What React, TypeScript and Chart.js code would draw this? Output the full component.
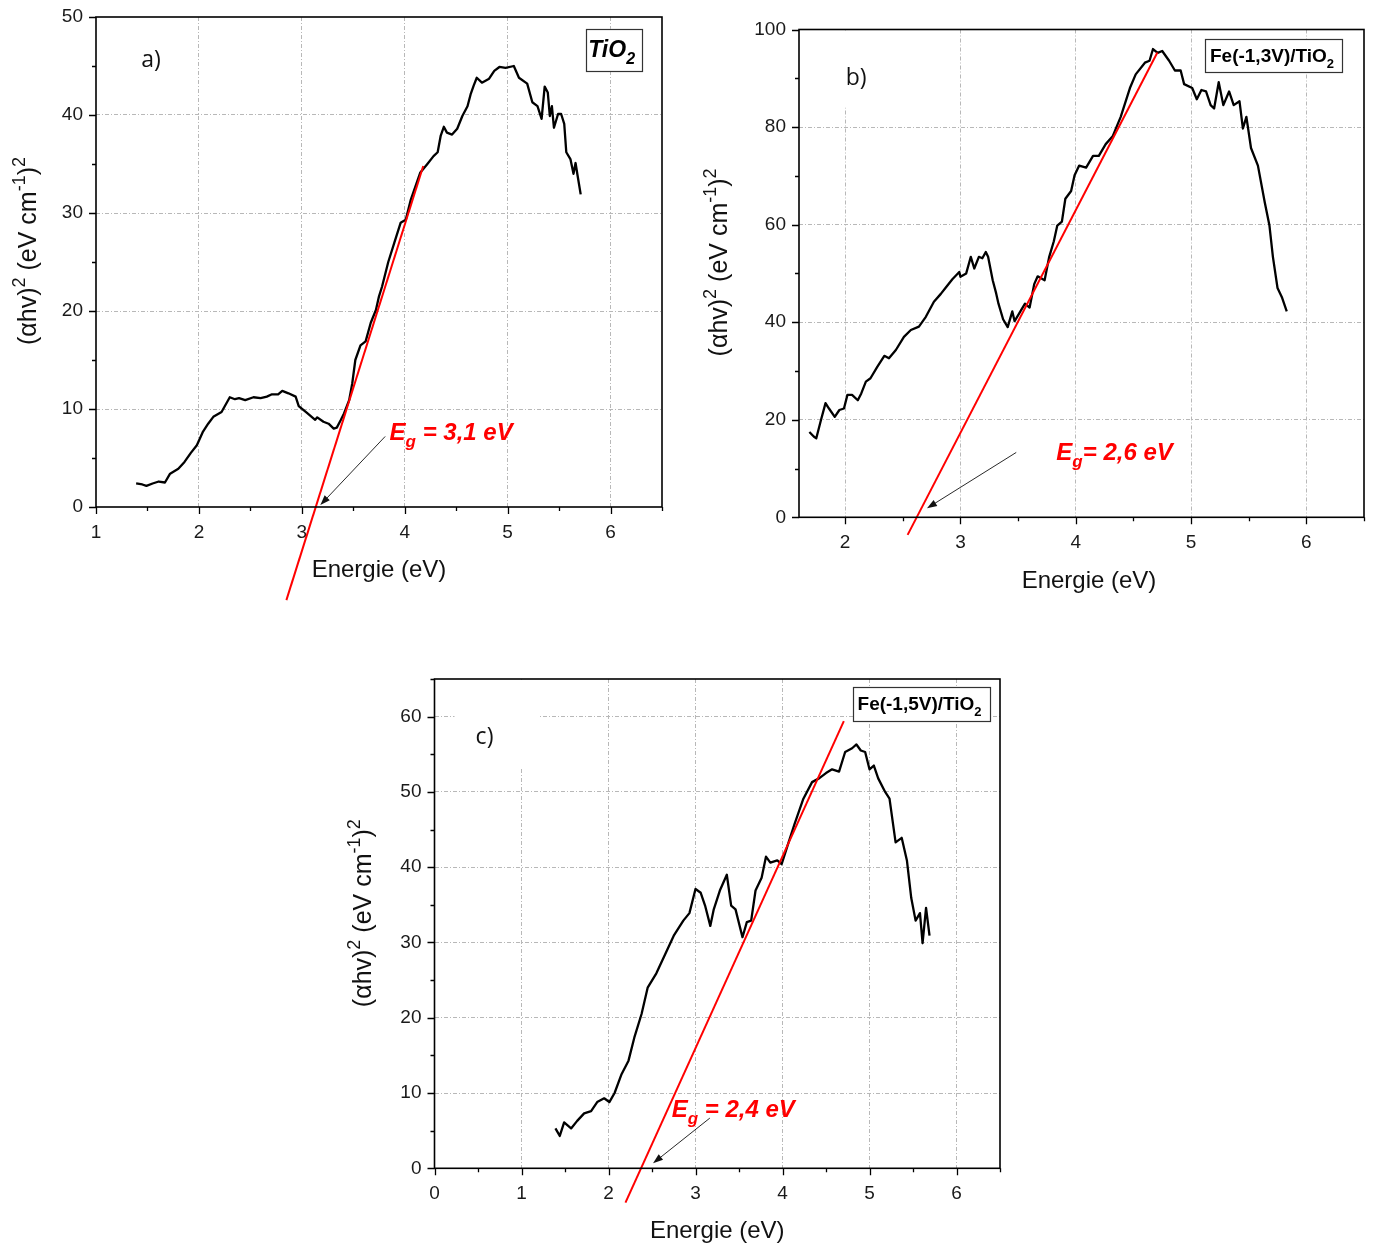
import { useEffect, useRef } from "react";
import { Chart, registerables } from "chart.js";

Chart.register(...registerables);

type Pt = [number, number];
type Part = { t: string; sub?: boolean; sup?: boolean };

// (αhν)² against photon energy — a) TiO2
const curveTiO2: Pt[] = [
  [1.39, 2.4], [1.45, 2.3], [1.49, 2.15], [1.55, 2.4], [1.61, 2.6], [1.67, 2.5], [1.72, 3.4],
  [1.80, 3.9], [1.86, 4.6], [1.92, 5.5], [1.98, 6.3], [2.04, 7.7], [2.09, 8.5], [2.14, 9.2],
  [2.22, 9.7], [2.30, 11.2], [2.35, 11.0], [2.39, 11.1], [2.45, 10.9], [2.53, 11.2],
  [2.60, 11.1], [2.66, 11.26], [2.71, 11.5], [2.77, 11.5], [2.81, 11.85], [2.87, 11.6],
  [2.94, 11.26], [2.97, 10.3], [3.05, 9.6], [3.13, 8.9], [3.15, 9.15], [3.21, 8.7],
  [3.26, 8.5], [3.31, 8.0], [3.34, 8.1], [3.38, 8.9], [3.41, 9.55], [3.46, 10.9],
  [3.49, 12.6], [3.52, 15.0], [3.57, 16.5], [3.62, 16.9], [3.67, 18.8], [3.72, 20.1],
  [3.75, 21.5], [3.78, 22.5], [3.84, 25.0], [3.90, 27.0], [3.96, 29.0], [4.01, 29.3],
  [4.06, 31.4], [4.15, 34.1], [4.22, 35.0], [4.28, 35.8], [4.32, 36.2], [4.35, 37.9],
  [4.38, 38.8], [4.41, 38.2], [4.46, 38.0], [4.51, 38.6], [4.56, 39.9], [4.61, 40.9],
  [4.64, 42.1], [4.67, 43.0], [4.70, 43.8], [4.75, 43.3], [4.82, 43.7], [4.87, 44.5],
  [4.92, 44.9], [4.98, 44.8], [5.06, 45.0], [5.11, 43.8], [5.19, 43.2], [5.24, 41.3],
  [5.29, 40.9], [5.33, 39.6], [5.36, 42.9], [5.39, 42.3], [5.41, 39.9], [5.43, 40.9],
  [5.45, 38.7], [5.49, 40.1], [5.52, 40.1], [5.55, 39.1], [5.57, 36.2], [5.61, 35.5],
  [5.64, 34.0], [5.66, 35.1], [5.68, 33.8], [5.71, 31.9],
];
const fitTiO2: Pt[] = [[2.85, -9.5], [4.18, 34.8]];

// b) Fe(-1,3V)/TiO2
const curveFe13: Pt[] = [
  [1.69, 17.5], [1.73, 16.5], [1.75, 16.2], [1.79, 19.9], [1.83, 23.4], [1.86, 22.3],
  [1.91, 20.6], [1.95, 22.0], [1.99, 22.3], [2.02, 25.1], [2.06, 25.1], [2.11, 24.0],
  [2.14, 25.4], [2.18, 27.8], [2.22, 28.5], [2.28, 30.9], [2.34, 33.1], [2.38, 32.6],
  [2.44, 34.3], [2.51, 37.0], [2.57, 38.4], [2.64, 39.1], [2.70, 41.1], [2.77, 44.2],
  [2.83, 45.8], [2.87, 47.0], [2.93, 48.8], [2.99, 50.3], [3.00, 49.3], [3.05, 50.0],
  [3.09, 53.4], [3.12, 51.0], [3.16, 53.4], [3.19, 53.1], [3.22, 54.4], [3.24, 53.4],
  [3.28, 48.6], [3.31, 45.9], [3.33, 43.8], [3.37, 40.6], [3.41, 39.0], [3.45, 42.2],
  [3.47, 40.2], [3.52, 42.2], [3.56, 43.8], [3.60, 43.0], [3.64, 47.8], [3.67, 49.4],
  [3.73, 48.6], [3.77, 53.4], [3.81, 56.6], [3.84, 59.8], [3.88, 60.6], [3.91, 65.3],
  [3.96, 66.9], [3.99, 70.1], [4.03, 72.1], [4.09, 71.7], [4.15, 74.1], [4.20, 74.1],
  [4.26, 76.5], [4.32, 78.1], [4.39, 82.1], [4.47, 88.0], [4.52, 90.8], [4.60, 93.2],
  [4.64, 93.6], [4.67, 96.0], [4.71, 95.2], [4.75, 95.6], [4.81, 93.6], [4.86, 91.6],
  [4.91, 91.6], [4.94, 88.8], [5.01, 88.0], [5.05, 85.7], [5.09, 87.6], [5.13, 87.3],
  [5.17, 84.5], [5.20, 83.8], [5.24, 89.2], [5.28, 84.5], [5.33, 87.3], [5.37, 84.5],
  [5.42, 85.3], [5.45, 79.7], [5.48, 82.1], [5.52, 75.7], [5.58, 72.1], [5.64, 64.5],
  [5.68, 59.8], [5.71, 53.4], [5.75, 47.0], [5.79, 45.0], [5.83, 42.2],
];
const fitFe13: Pt[] = [[2.542, -3.6], [4.708, 95.3]];

// c) Fe(-1,5V)/TiO2
const curveFe15: Pt[] = [
  [1.39, 5.3], [1.44, 4.3], [1.49, 6.1], [1.57, 5.3], [1.64, 6.3], [1.72, 7.3], [1.80, 7.6],
  [1.87, 8.8], [1.95, 9.3], [2.01, 8.8], [2.07, 10.0], [2.15, 12.5], [2.23, 14.3],
  [2.30, 17.5], [2.38, 20.5], [2.45, 24.0], [2.55, 25.9], [2.65, 28.4], [2.75, 30.9],
  [2.86, 32.9], [2.93, 33.9], [3.00, 37.1], [3.06, 36.6], [3.11, 34.9], [3.17, 32.2],
  [3.21, 34.4], [3.28, 36.9], [3.36, 39.0], [3.41, 34.9], [3.46, 34.4], [3.54, 30.7],
  [3.59, 32.7], [3.64, 32.9], [3.69, 36.9], [3.76, 38.6], [3.81, 41.4], [3.86, 40.6],
  [3.94, 40.9], [3.99, 40.4], [4.07, 43.3], [4.14, 45.8], [4.24, 49.1], [4.34, 51.3],
  [4.42, 51.8], [4.50, 52.5], [4.57, 53.0], [4.65, 52.7], [4.72, 55.3], [4.80, 55.8],
  [4.85, 56.3], [4.90, 55.5], [4.95, 55.3], [5.00, 53.0], [5.05, 53.5], [5.10, 51.8],
  [5.18, 50.0], [5.23, 49.1], [5.30, 43.3], [5.37, 43.9], [5.43, 40.9], [5.48, 35.9],
  [5.53, 32.9], [5.58, 33.9], [5.61, 29.9], [5.65, 34.6], [5.69, 30.9],
];
const fitFe15: Pt[] = [[2.195, -4.55], [4.705, 59.4]];

// Tick values (major ones carry labels)
const energyTicksA = [1, 1.5, 2, 2.5, 3, 3.5, 4, 4.5, 5, 5.5, 6, 6.5];
const absTicksA = [0, 5, 10, 15, 20, 25, 30, 35, 40, 45, 50];
const energyTicksB = [2, 2.5, 3, 3.5, 4, 4.5, 5, 5.5, 6, 6.5];
const absTicksB = [0, 10, 20, 30, 40, 50, 60, 70, 80, 90, 100];
const energyTicksC = [0, 0.5, 1, 1.5, 2, 2.5, 3, 3.5, 4, 4.5, 5, 5.5, 6, 6.5];
const absTicksC = [0, 5, 10, 15, 20, 25, 30, 35, 40, 45, 50, 55, 60, 65];

const yTitle: Part[] = [
  { t: "(αhv)" }, { t: "2", sup: true }, { t: " (eV cm" }, { t: "-1", sup: true },
  { t: ")" }, { t: "2", sup: true },
];
const xTitle = "Energie (eV)";

interface PanelCfg {
  left: number; top: number; width: number; height: number;
  area: { l: number; t: number; r: number; b: number };
  xMin: number; xMax: number; yMin: number; yMax: number;
  xTicks: number[]; yTicks: number[]; xMajor: number; yMajor: number;
  curve: Pt[]; fit: Pt[];
  letter: { text: string; x: number; y: number };
  legend: { parts: Part[]; x0: number; x1: number; y0: number; y1: number; size: number; italic: boolean };
  eg: { parts: Part[]; x: number; y: number };
  arrow: { x0: number; y0: number; x1: number; y1: number };
  mask?: { x0: number; x1: number; y0: number; y1: number };
  yTitlePos: { dx: number; dy: number };
  xTitlePos: { dx: number; dy: number };
}

const SANS = "'Liberation Sans', Arial, sans-serif";

const panels: PanelCfg[] = [
  {
    left: 0, top: 0, width: 690, height: 615,
    area: { l: 96, t: 17, r: 662, b: 507 },
    xMin: 1, xMax: 6.5, yMin: 0, yMax: 50,
    xTicks: energyTicksA, yTicks: absTicksA, xMajor: 1, yMajor: 10,
    curve: curveTiO2, fit: fitTiO2,
    letter: { text: "a)", x: 1.535, y: 45.6 },
    legend: { parts: [{ t: "TiO" }, { t: "2", sub: true }], x0: 5.76, x1: 6.3, y0: 48.8, y1: 44.5, size: 23, italic: true },
    eg: { parts: [{ t: "E" }, { t: "g", sub: true }, { t: " = 3,1 eV" }], x: 3.853, y: 6.83 },
    arrow: { x0: 3.81, y0: 7.2, x1: 3.18, y1: 0.2 },
    yTitlePos: { dx: -69, dy: -11 },
    xTitlePos: { dx: 0, dy: 63 },
  },
  {
    left: 690, top: 0, width: 683, height: 615,
    area: { l: 109, t: 29.5, r: 674, b: 517.3 },
    xMin: 1.6, xMax: 6.5, yMin: 0, yMax: 100,
    xTicks: energyTicksB, yTicks: absTicksB, xMajor: 1, yMajor: 20,
    curve: curveFe13, fit: fitFe13,
    letter: { text: "b)", x: 2.095, y: 89.9 },
    legend: { parts: [{ t: "Fe(-1,3V)/TiO" }, { t: "2", sub: true }], x0: 5.125, x1: 6.314, y0: 98.0, y1: 91.2, size: 19, italic: false },
    eg: { parts: [{ t: "E" }, { t: "g", sub: true }, { t: "= 2,6 eV" }], x: 3.832, y: 11.7 },
    arrow: { x0: 3.484, y0: 13.3, x1: 2.71, y1: 1.85 },
    mask: { x0: 1.8, x1: 2.2, y0: 100, y1: 84 },
    yTitlePos: { dx: -81, dy: -11 },
    xTitlePos: { dx: 7.5, dy: 63.7 },
  },
  {
    left: 330, top: 640, width: 690, height: 605,
    area: { l: 104.5, t: 39, r: 670, b: 528.3 },
    xMin: 0, xMax: 6.5, yMin: 0, yMax: 65,
    xTicks: energyTicksC, yTicks: absTicksC, xMajor: 1, yMajor: 10,
    curve: curveFe15, fit: fitFe15,
    letter: { text: "c)", x: 0.575, y: 57.3 },
    legend: { parts: [{ t: "Fe(-1,5V)/TiO" }, { t: "2", sub: true }], x0: 4.81, x1: 6.387, y0: 63.9, y1: 59.4, size: 19, italic: false },
    eg: { parts: [{ t: "E" }, { t: "g", sub: true }, { t: " = 2,4 eV" }], x: 2.727, y: 6.84 },
    arrow: { x0: 3.165, y0: 6.67, x1: 2.512, y1: 0.67 },
    mask: { x0: 0.23, x1: 1.21, y0: 65, y1: 53.1 },
    yTitlePos: { dx: -72.5, dy: -10.5 },
    xTitlePos: { dx: 0, dy: 62.7 },
  },
];

const isMultiple = (v: number, step: number) => Math.abs(v / step - Math.round(v / step)) < 1e-6;

function drawRich(
  ctx: CanvasRenderingContext2D, parts: Part[], x: number, y: number, size: number,
  font: { weight: string; style: string; family: string }, align: "left" | "center",
) {
  const small = Math.round(size * 0.7);
  const fontFor = (p: Part) => `${font.style} ${font.weight} ${p.sub || p.sup ? small : size}px ${font.family}`;
  let total = 0;
  for (const p of parts) {
    ctx.font = fontFor(p);
    total += ctx.measureText(p.t).width;
  }
  let cx = align === "center" ? x - total / 2 : x;
  ctx.textAlign = "left";
  ctx.textBaseline = "alphabetic";
  for (const p of parts) {
    ctx.font = fontFor(p);
    const dy = p.sub ? size * 0.3 : p.sup ? -size * 0.42 : 0;
    ctx.fillText(p.t, cx, y + dy);
    cx += ctx.measureText(p.t).width;
  }
}

function decorPlugin(cfg: PanelCfg) {
  return {
    id: "decor",
    beforeDatasetsDraw(chart: any) {
      if (!cfg.mask) return;
      const { ctx, scales } = chart;
      const xs = scales.x, ys = scales.y;
      const m = cfg.mask;
      const X0 = xs.getPixelForValue(m.x0), X1 = xs.getPixelForValue(m.x1);
      const Y0 = ys.getPixelForValue(m.y0), Y1 = ys.getPixelForValue(m.y1);
      ctx.save();
      ctx.fillStyle = "#ffffff";
      ctx.fillRect(X0, Y0 + 1, X1 - X0, Y1 - Y0 - 1);
      ctx.restore();
    },
    afterDraw(chart: any) {
      const { ctx, chartArea: ca, scales } = chart;
      const xs = scales.x, ys = scales.y;
      ctx.save();

      // frame
      ctx.strokeStyle = "#000";
      ctx.lineWidth = 1.6;
      ctx.strokeRect(ca.left, ca.top, ca.right - ca.left, ca.bottom - ca.top);

      // outward tick marks, longer on labelled values
      ctx.lineWidth = 1.3;
      ctx.beginPath();
      for (const v of cfg.xTicks) {
        const px = Math.round(xs.getPixelForValue(v)) + 0.5;
        const len = isMultiple(v, cfg.xMajor) ? 7 : 4;
        ctx.moveTo(px, ca.bottom);
        ctx.lineTo(px, ca.bottom + len);
      }
      for (const v of cfg.yTicks) {
        const py = Math.round(ys.getPixelForValue(v)) + 0.5;
        const len = isMultiple(v, cfg.yMajor) ? 7 : 4;
        ctx.moveTo(ca.left, py);
        ctx.lineTo(ca.left - len, py);
      }
      ctx.stroke();

      // axis titles
      ctx.fillStyle = "#111";
      const midX = (ca.left + ca.right) / 2, midY = (ca.top + ca.bottom) / 2;
      ctx.save();
      ctx.translate(ca.left + cfg.yTitlePos.dx, midY + cfg.yTitlePos.dy);
      ctx.rotate(-Math.PI / 2);
      drawRich(ctx, yTitle, 0, 8.5, 25, { weight: "normal", style: "normal", family: SANS }, "center");
      ctx.restore();
      ctx.font = `24px ${SANS}`;
      ctx.textAlign = "center";
      ctx.textBaseline = "middle";
      ctx.fillText(xTitle, midX + cfg.xTitlePos.dx, ca.bottom + cfg.xTitlePos.dy);

      // panel letter
      ctx.font = "23px 'Open Sans', sans-serif";
      ctx.fillText(cfg.letter.text, xs.getPixelForValue(cfg.letter.x), ys.getPixelForValue(cfg.letter.y));

      // sample legend box
      const L = cfg.legend;
      const bx0 = xs.getPixelForValue(L.x0), bx1 = xs.getPixelForValue(L.x1);
      const by0 = ys.getPixelForValue(L.y0), by1 = ys.getPixelForValue(L.y1);
      ctx.fillStyle = "#fff";
      ctx.fillRect(bx0, by0, bx1 - bx0, by1 - by0);
      ctx.strokeStyle = "#333";
      ctx.lineWidth = 1.2;
      ctx.strokeRect(Math.round(bx0) + 0.5, Math.round(by0) + 0.5, Math.round(bx1 - bx0), Math.round(by1 - by0));
      ctx.fillStyle = "#000";
      drawRich(ctx, L.parts, (bx0 + bx1) / 2 - 2, (by0 + by1) / 2 + L.size * 0.33, L.size,
        { weight: "bold", style: L.italic ? "italic" : "normal", family: SANS }, "center");

      // band-gap label
      ctx.fillStyle = "#ff0000";
      drawRich(ctx, cfg.eg.parts, xs.getPixelForValue(cfg.eg.x), ys.getPixelForValue(cfg.eg.y), 24,
        { weight: "bold", style: "italic", family: SANS }, "left");

      // arrow pointing at the intercept
      const a = cfg.arrow;
      const ax0 = xs.getPixelForValue(a.x0), ay0 = ys.getPixelForValue(a.y0);
      const ax1 = xs.getPixelForValue(a.x1), ay1 = ys.getPixelForValue(a.y1);
      const ang = Math.atan2(ay1 - ay0, ax1 - ax0);
      ctx.strokeStyle = "#111";
      ctx.lineWidth = 0.9;
      ctx.beginPath();
      ctx.moveTo(ax0, ay0);
      ctx.lineTo(ax1 - Math.cos(ang) * 6, ay1 - Math.sin(ang) * 6);
      ctx.stroke();
      ctx.fillStyle = "#111";
      ctx.beginPath();
      ctx.moveTo(ax1, ay1);
      ctx.lineTo(ax1 - Math.cos(ang) * 10 + Math.sin(ang) * 3.5, ay1 - Math.sin(ang) * 10 - Math.cos(ang) * 3.5);
      ctx.lineTo(ax1 - Math.cos(ang) * 10 - Math.sin(ang) * 3.5, ay1 - Math.sin(ang) * 10 + Math.cos(ang) * 3.5);
      ctx.closePath();
      ctx.fill();

      ctx.restore();
    },
  };
}

function Panel({ cfg }: { cfg: PanelCfg }) {
  const ref = useRef<HTMLCanvasElement>(null);
  useEffect(() => {
    const canvas = ref.current;
    if (!canvas) return;
    const gridColor = (step: number, lo: number, hi: number) => (c: any) => {
      const v = c.tick ? c.tick.value : NaN;
      if (!isMultiple(v, step) || Math.abs(v - lo) < 1e-6 || Math.abs(v - hi) < 1e-6) return "rgba(0,0,0,0)";
      return "#b8b8b8";
    };
    const tickFont = { family: SANS, size: 19 };
    const chart = new Chart(canvas, {
      type: "line",
      data: {
        datasets: [
          {
            data: cfg.fit.map(([x, y]) => ({ x, y })),
            borderColor: "#ff0000", borderWidth: 2, pointRadius: 0, tension: 0, clip: false as any,
          },
          {
            data: cfg.curve.map(([x, y]) => ({ x, y })),
            borderColor: "#000000", borderWidth: 2.3, pointRadius: 0, tension: 0,
            borderJoinStyle: "round" as any,
          },
        ],
      },
      options: {
        responsive: false,
        animation: false,
        devicePixelRatio: 1,
        events: [],
        layout: { padding: { left: 0, top: cfg.area.t, right: cfg.width - cfg.area.r, bottom: 0 } },
        plugins: { legend: { display: false }, tooltip: { enabled: false } },
        scales: {
          x: {
            type: "linear", min: cfg.xMin, max: cfg.xMax,
            afterBuildTicks: (s: any) => { s.ticks = cfg.xTicks.map((v) => ({ value: v })); },
            afterFit: (s: any) => {
              s.height = cfg.height - cfg.area.b;
              s.paddingLeft = 0; s.paddingRight = 0;
            },
            ticks: {
              autoSkip: false, maxRotation: 0, minRotation: 0, padding: 14, font: tickFont, color: "#1a1a1a",
              callback: (v: any) => (isMultiple(Number(v), cfg.xMajor) ? String(v) : ""),
            },
            grid: { drawTicks: false, lineWidth: 1, color: gridColor(cfg.xMajor, cfg.xMin, cfg.xMax) as any },
            border: { display: false, dash: [4, 2, 1, 2] },
          },
          y: {
            type: "linear", min: cfg.yMin, max: cfg.yMax,
            afterBuildTicks: (s: any) => { s.ticks = cfg.yTicks.map((v) => ({ value: v })); },
            afterFit: (s: any) => {
              s.width = cfg.area.l;
              s.paddingTop = 0; s.paddingBottom = 0;
            },
            ticks: {
              padding: 13, font: tickFont, color: "#1a1a1a",
              callback: (v: any) => (isMultiple(Number(v), cfg.yMajor) ? String(v) : ""),
            },
            grid: { drawTicks: false, lineWidth: 1, color: gridColor(cfg.yMajor, cfg.yMin, cfg.yMax) as any },
            border: { display: false, dash: [4, 2, 1, 2] },
          },
        },
      },
      plugins: [decorPlugin(cfg) as any],
    });
    return () => chart.destroy();
  }, [cfg]);
  return (
    <canvas
      ref={ref}
      width={cfg.width}
      height={cfg.height}
      style={{ position: "absolute", left: cfg.left, top: cfg.top, width: cfg.width, height: cfg.height }}
    />
  );
}

export default function App() {
  return (
    <div style={{ position: "absolute", left: 0, top: 0, width: 1373, height: 1245, background: "#fff", overflow: "hidden" }}>
      {panels.map((p, i) => (
        <Panel key={i} cfg={p} />
      ))}
    </div>
  );
}
